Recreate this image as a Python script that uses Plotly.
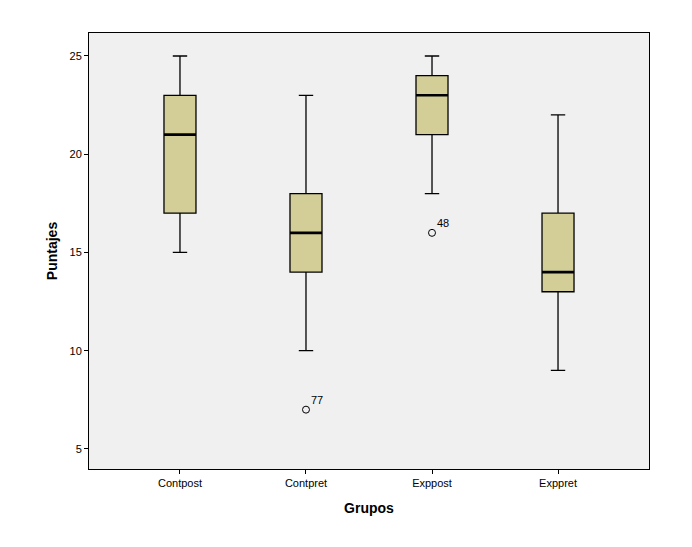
import plotly.graph_objects as go

# data
grupos = ["Contpost", "Contpret", "Exppost", "Exppret"]
minimo = [15, 10, 18, 9]
q1 = [17, 14, 21, 13]
mediana = [21, 16, 23, 14]
q3 = [23, 18, 24, 17]
maximo = [25, 23, 25, 22]

atipico_grupo = ["Contpret", "Exppost"]
atipico_valor = [7, 16]
atipico_caso = ["77", "48"]

fig = go.Figure()

fig.add_trace(go.Box(x=grupos, q1=q1, median=mediana, q3=q3,
                     lowerfence=minimo, upperfence=maximo,
                     width=0.254, whiskerwidth=0.45,
                     fillcolor="#D3CE97",
                     line=dict(color="#000000", width=1.3),
                     boxpoints=False, hoverinfo="skip", showlegend=False))

# median lines thicker, drawn over the boxes
fig.add_trace(go.Box(x=grupos, q1=mediana, median=mediana, q3=mediana,
                     lowerfence=mediana, upperfence=mediana,
                     width=0.254, whiskerwidth=0,
                     fillcolor="rgba(0,0,0,0)",
                     line=dict(color="#000000", width=2.6),
                     boxpoints=False, hoverinfo="skip", showlegend=False))

fig.add_trace(go.Scatter(x=atipico_grupo, y=atipico_valor, mode="markers",
                         marker=dict(symbol="circle-open", size=7,
                                     color="#000000", line=dict(width=1)),
                         hoverinfo="skip", showlegend=False))

for g, v, c in zip(atipico_grupo, atipico_valor, atipico_caso):
    fig.add_annotation(x=g, y=v, text=c, showarrow=False,
                       xanchor="left", yanchor="bottom", xshift=3, yshift=2,
                       font=dict(family="Arial, Liberation Sans", size=11, color="#000000"))

fig.update_layout(
    width=692, height=547,
    margin=dict(l=81, r=51, t=25, b=86),
    paper_bgcolor="white",
    plot_bgcolor="#F0F0F0",
    font=dict(family="Arial, Liberation Sans", color="#000000", size=11),
    xaxis=dict(range=[-0.722, 3.722], showgrid=False, zeroline=False,
               showline=True, linecolor="#000000", linewidth=1, mirror=True,
               ticks="outside", ticklen=4, tickcolor="#000000",
               title=dict(text="<b>Grupos</b>", font=dict(size=14), standoff=14)),
    yaxis=dict(range=[3.98, 26.17], showgrid=False, zeroline=False,
               showline=True, linecolor="#000000", linewidth=1, mirror=True,
               tickvals=[5, 10, 15, 20, 25],
               ticks="outside", ticklen=4, tickcolor="#000000",
               title=dict(text="<b>Puntajes</b>", font=dict(size=14), standoff=8)),
)

fig.write_html("out.html")
